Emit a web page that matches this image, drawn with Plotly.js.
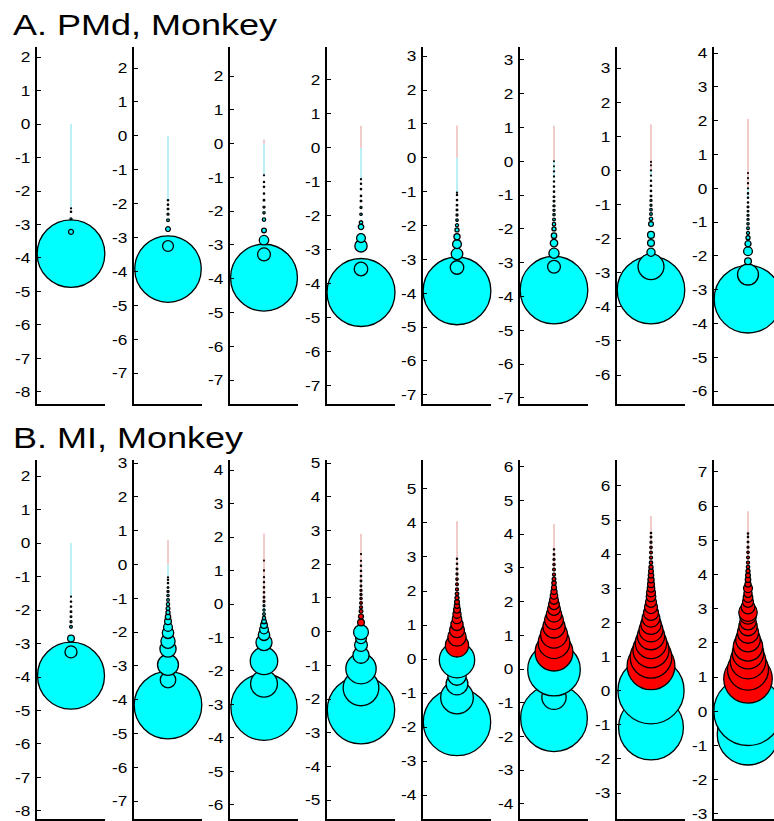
<!DOCTYPE html>
<html>
<head>
<meta charset="utf-8">
<script src="https://cdn.plot.ly/plotly-3.0.1.min.js"></script>
<style>
  html, body { margin: 0; padding: 0; overflow: hidden; background: #fff; }
  #chart { width: 790px; height: 840px; }
  /* row headings are set a little wider than the plain face */
  .annotation-text { transform-box: fill-box; transform-origin: 0% 50%; transform: scaleX(1.2); }
</style>
</head>
<body>
<div id="chart"></div>
<script>
// Bubble stacks per panel: centre (state value) and radius, both in y units.
// Listed from the bottom of each stack to the top (later bubbles sit on top).

// ---- A. PMd ----
const pmd1Y = [-3.87, -3.22, -2.83, -2.62, -2.52];
const pmd1R = [1.01, 0.075, 0.03, 0.02, 0.015];
const pmd2Y = [-3.93, -3.25, -2.75, -2.49, -2.31, -2.16, -2.03, -1.9];
const pmd2R = [0.98, 0.16, 0.07, 0.04, 0.03, 0.025, 0.02, 0.02];
const pmd3Y = [-3.97, -3.28, -2.86, -2.57, -2.25, -2.05, -1.88, -1.68, -1.48, -1.28, -1.14, -0.94];
const pmd3R = [0.99, 0.19, 0.14, 0.07, 0.05, 0.035, 0.03, 0.025, 0.02, 0.02, 0.018, 0.015];
const pmd4Y = [-4.25, -3.56, -2.88, -2.65, -2.32, -2.19, -1.95, -1.75, -1.56, -1.41, -1.21, -1.05, -0.92];
const pmd4R = [1.0, 0.2, 0.18, 0.13, 0.08, 0.05, 0.035, 0.03, 0.025, 0.02, 0.02, 0.018, 0.015];
const pmd5Y = [-3.93, -3.24, -2.84, -2.55, -2.33, -2.13, -1.99, -1.84, -1.69, -1.54, -1.4, -1.25, -1.1, -1.03];
const pmd5R = [1.0, 0.2, 0.17, 0.13, 0.09, 0.06, 0.045, 0.035, 0.03, 0.025, 0.022, 0.02, 0.018, 0.015];
const pmd6Y = [-3.81, -3.12, -2.72, -2.42, -2.2, -2.0, -1.86, -1.72, -1.58, -1.45, -1.32, -1.18, -1.05, -0.9, -0.75, -0.6, -0.45, -0.3, -0.15, 0.0];
const pmd6R = [1.0, 0.19, 0.15, 0.11, 0.08, 0.06, 0.05, 0.04, 0.035, 0.03, 0.03, 0.025, 0.025, 0.02, 0.02, 0.018, 0.015, 0.015, 0.012, 0.012];
const pmd7Y = [-3.51, -2.82, -2.4, -2.13, -1.89, -1.57, -1.42, -1.28, -1.15, -1.02, -0.88, -0.75, -0.6, -0.45, -0.3, -0.15, 0.0, 0.15, 0.25];
const pmd7R = [0.99, 0.38, 0.12, 0.1, 0.1, 0.07, 0.05, 0.04, 0.035, 0.03, 0.03, 0.025, 0.02, 0.02, 0.018, 0.015, 0.015, 0.012, 0.012];
const pmd8Y = [-3.28, -2.55, -2.16, -1.86, -1.64, -1.46, -1.32, -1.18, -1.05, -0.92, -0.8, -0.68, -0.55, -0.42, -0.28, -0.15, 0.0, 0.15, 0.3, 0.45];
const pmd8R = [1.0, 0.31, 0.1, 0.13, 0.09, 0.06, 0.045, 0.04, 0.035, 0.03, 0.03, 0.025, 0.025, 0.02, 0.02, 0.018, 0.015, 0.015, 0.012, 0.012];

// ---- B. MI ----
const mi1Y = [-3.96, -3.25, -2.85, -2.5, -2.35, -2.2, -2.05, -1.9, -1.75, -1.6];
const mi1R = [1.0, 0.18, 0.1, 0.04, 0.03, 0.025, 0.025, 0.02, 0.02, 0.015];
const mi2Y = [-4.16, -3.42, -2.97, -2.5, -2.27, -2.02, -1.85, -1.68, -1.55, -1.42, -1.3, -1.18, -1.05, -0.92, -0.8, -0.68, -0.55, -0.45, -0.38];
const mi2R = [1.0, 0.23, 0.31, 0.24, 0.21, 0.17, 0.13, 0.1, 0.08, 0.06, 0.055, 0.05, 0.04, 0.035, 0.03, 0.025, 0.02, 0.018, 0.015];
const mi3Y = [-3.08, -2.38, -1.7, -1.15, -0.92, -0.76, -0.63, -0.52, -0.42, -0.3, -0.18, -0.05, 0.08, 0.2, 0.35, 0.5, 0.65, 0.8, 1.0, 1.3];
const mi3R = [0.99, 0.4, 0.41, 0.24, 0.17, 0.13, 0.1, 0.07, 0.05, 0.04, 0.035, 0.03, 0.03, 0.025, 0.02, 0.02, 0.018, 0.015, 0.015, 0.012];
const mi4Y = [-2.33, -1.67, -1.1, -0.7, -0.4, -0.2, -0.02, 0.27, 0.45, 0.6, 0.72, 0.85, 0.98, 1.1, 1.22, 1.35, 1.5, 1.65, 1.8, 1.95, 2.1, 2.3];
const mi4R = [1.0, 0.53, 0.45, 0.24, 0.19, 0.16, 0.22, 0.1, 0.075, 0.055, 0.045, 0.04, 0.035, 0.03, 0.03, 0.025, 0.025, 0.02, 0.02, 0.018, 0.015, 0.015];
const mi5Y = [-1.85, -1.13, -0.73, -0.5, -0.03, 0.4, 0.65, 0.85, 1.02, 1.18, 1.32, 1.45, 1.57, 1.68, 1.8, 1.92, 2.05, 2.2, 2.35, 2.5, 2.65, 2.8, 2.95];
const mi5R = [0.99, 0.48, 0.32, 0.27, 0.52, 0.34, 0.27, 0.22, 0.18, 0.14, 0.12, 0.1, 0.08, 0.07, 0.06, 0.05, 0.045, 0.04, 0.035, 0.03, 0.025, 0.02, 0.018];
const mi6Y = [-1.46, -0.84, -0.02, 0.5, 0.78, 1.02, 1.25, 1.45, 1.62, 1.78, 1.92, 2.05, 2.18, 2.3, 2.42, 2.55, 2.67, 2.8, 2.95, 3.1, 3.25, 3.4, 3.55];
const mi6R = [0.99, 0.36, 0.78, 0.56, 0.47, 0.4, 0.33, 0.28, 0.23, 0.19, 0.16, 0.13, 0.11, 0.09, 0.075, 0.065, 0.055, 0.045, 0.04, 0.035, 0.03, 0.025, 0.02];
const mi7Y = [-1.08, 0.0, 0.73, 0.98, 1.2, 1.4, 1.6, 1.78, 1.95, 2.12, 2.28, 2.45, 2.6, 2.75, 2.88, 3.0, 3.12, 3.25, 3.38, 3.5, 3.62, 3.75, 3.9, 4.05, 4.2, 4.35, 4.5, 4.62];
const mi7R = [0.95, 0.97, 0.7, 0.61, 0.53, 0.46, 0.4, 0.35, 0.3, 0.26, 0.22, 0.19, 0.16, 0.14, 0.13, 0.11, 0.1, 0.09, 0.08, 0.07, 0.06, 0.05, 0.045, 0.04, 0.035, 0.03, 0.025, 0.02];
const mi8Y = [-0.67, 0.0, 0.95, 1.22, 1.47, 1.7, 1.9, 2.1, 2.3, 2.48, 2.62, 2.8, 2.9, 3.05, 3.2, 3.33, 3.45, 3.6, 3.72, 3.85, 3.98, 4.1, 4.22, 4.35, 4.5, 4.65, 4.8, 4.95, 5.1, 5.2];
const mi8R = [0.9, 1.0, 0.71, 0.6, 0.52, 0.46, 0.43, 0.36, 0.31, 0.27, 0.24, 0.25, 0.27, 0.2, 0.16, 0.14, 0.12, 0.13, 0.09, 0.08, 0.07, 0.06, 0.05, 0.045, 0.04, 0.035, 0.03, 0.025, 0.02, 0.02];

// Faint trail of near-zero bubbles above each stack (low, high)
const pmdTailLow  = [-2.5, -1.9, -0.94, -0.9, -1.03, -0.5, -0.2, -0.3];
const pmdTailHigh = [0.0, 0.0, 0.12, 0.65, 0.95, 1.05, 1.35, 2.05];
const miTailLow   = [-1.6, -0.4, -0.4, 0.6, 1.5, 2.0, 3.0, 3.5];
const miTailHigh  = [0.0, 0.72, 2.1, 2.9, 4.05, 4.3, 5.12, 5.85];

// y-axis limits per panel
const pmdYMin = [-8.36, -7.91, -7.71, -7.53, -7.27, -7.18, -6.85, -6.38];
const pmdYMax = [2.3, 2.62, 2.86, 2.97, 3.27, 3.38, 3.62, 4.18];
const miYMin  = [-8.24, -7.53, -6.42, -5.56, -4.7, -4.45, -3.76, -3.15];
const miYMax  = [2.48, 3.09, 4.3, 5.09, 5.85, 6.2, 6.76, 7.35];

const rowTitles = ['A. PMd, Monkey', 'B. MI, Monkey'];

// ---- geometry (pixels) ----
const W = 790, H = 840;
const panelLeft = [37, 134, 230, 327, 423, 520, 617, 714];
const panelWidth = 68;
const rowTop = [47, 460];
const rowBottom = [404, 819];
const FONT = 'Liberation Sans, Arial, sans-serif';
const CYAN = '#00FFFF', RED = '#FF0000';
const TICK_STRETCH = 1.15;

const rows = [
  { ys: [pmd1Y, pmd2Y, pmd3Y, pmd4Y, pmd5Y, pmd6Y, pmd7Y, pmd8Y],
    rs: [pmd1R, pmd2R, pmd3R, pmd4R, pmd5R, pmd6R, pmd7R, pmd8R],
    tailLow: pmdTailLow, tailHigh: pmdTailHigh, yMin: pmdYMin, yMax: pmdYMax },
  { ys: [mi1Y, mi2Y, mi3Y, mi4Y, mi5Y, mi6Y, mi7Y, mi8Y],
    rs: [mi1R, mi2R, mi3R, mi4R, mi5R, mi6R, mi7R, mi8R],
    tailLow: miTailLow, tailHigh: miTailHigh, yMin: miYMin, yMax: miYMax }
];

const traces = [];
const layout = {
  width: W, height: H,
  margin: { l: 0, r: 0, t: 0, b: 0 },
  paper_bgcolor: '#fff', plot_bgcolor: 'rgba(0,0,0,0)',
  showlegend: false,
  font: { family: FONT, color: '#000' },
  annotations: []
};

rows.forEach((row, ri) => {
  const heightPx = rowBottom[ri] - rowTop[ri];
  const yDom = [1 - rowBottom[ri] / H, 1 - rowTop[ri] / H];
  for (let p = 0; p < 8; p++) {
    const n = ri * 8 + p + 1;
    const xa = 'x' + n, ya = 'y' + n;
    const lo = row.yMin[p], hi = row.yMax[p];
    const pxPerUnit = heightPx / (hi - lo);

    // trail line: cyan below zero, red above
    const tl = row.tailLow[p], th = row.tailHigh[p];
    if (tl < 0) {
      traces.push({ type: 'scatter', mode: 'lines', xaxis: xa, yaxis: ya,
        x: [0, 0], y: [tl, Math.min(th, 0)], cliponaxis: false, hoverinfo: 'skip',
        line: { color: 'rgba(60,215,230,0.7)', width: 1 } });
    }
    if (th > 0) {
      traces.push({ type: 'scatter', mode: 'lines', xaxis: xa, yaxis: ya,
        x: [0, 0], y: [Math.max(tl, 0), th], cliponaxis: false, hoverinfo: 'skip',
        line: { color: 'rgba(210,80,80,0.6)', width: 1 } });
    }

    const ys = row.ys[p], rs = row.rs[p];
    traces.push({
      type: 'scatter', mode: 'markers', xaxis: xa, yaxis: ya,
      x: ys.map(() => 0), y: ys, cliponaxis: false, hoverinfo: 'skip',
      marker: {
        symbol: 'circle',
        size: rs.map(r => 2 * r * pxPerUnit),
        color: ys.map(v => v > 0 ? RED : CYAN),
        opacity: 1,
        line: { color: '#000', width: 1.3 }
      }
    });

    const ticks = [];
    for (let t = Math.ceil(lo); t <= Math.floor(hi); t++) ticks.push(t);

    layout['xaxis' + (n === 1 ? '' : n)] = {
      domain: [panelLeft[p] / W, (panelLeft[p] + panelWidth) / W],
      range: [-1, 1], anchor: ya,
      showline: true, linecolor: '#000', linewidth: 1.6,
      showticklabels: false, ticks: '', showgrid: false, zeroline: false, fixedrange: true
    };
    layout['yaxis' + (n === 1 ? '' : n)] = {
      domain: yDom, range: [lo, hi], anchor: xa,
      showline: true, linecolor: '#000', linewidth: 1.6,
      ticks: 'inside', ticklen: 4, tickwidth: 1, tickcolor: '#000',
      tickvals: ticks, ticktext: ticks.map(String),
      tickfont: { family: FONT, size: 15, color: '#000' },
      ticklabelstandoff: 2,
      showgrid: false, zeroline: false, fixedrange: true
    };
  }
});

layout.annotations.push(
  { text: rowTitles[0], xref: 'paper', yref: 'paper', x: 11 / W, y: 1 - 24 / H,
    xanchor: 'left', yanchor: 'middle', showarrow: false,
    font: { family: FONT, size: 30, color: '#000' } },
  { text: rowTitles[1], xref: 'paper', yref: 'paper', x: 11 / W, y: 1 - 437 / H,
    xanchor: 'left', yanchor: 'middle', showarrow: false,
    font: { family: FONT, size: 30, color: '#000' } }
);

Plotly.newPlot('chart', traces, layout, { displayModeBar: false, staticPlot: true }).then(gd => {
  // widen the tick numbers about their right-aligned anchor
  gd.querySelectorAll('.yaxislayer-above text').forEach(t => {
    const x = parseFloat(t.getAttribute('x')) || 0;
    const prev = t.getAttribute('transform') || '';
    t.setAttribute('transform',
      prev + ' translate(' + x + ',0) scale(' + TICK_STRETCH + ',1) translate(' + (-x) + ',0)');
  });
});
</script>
</body>
</html>
